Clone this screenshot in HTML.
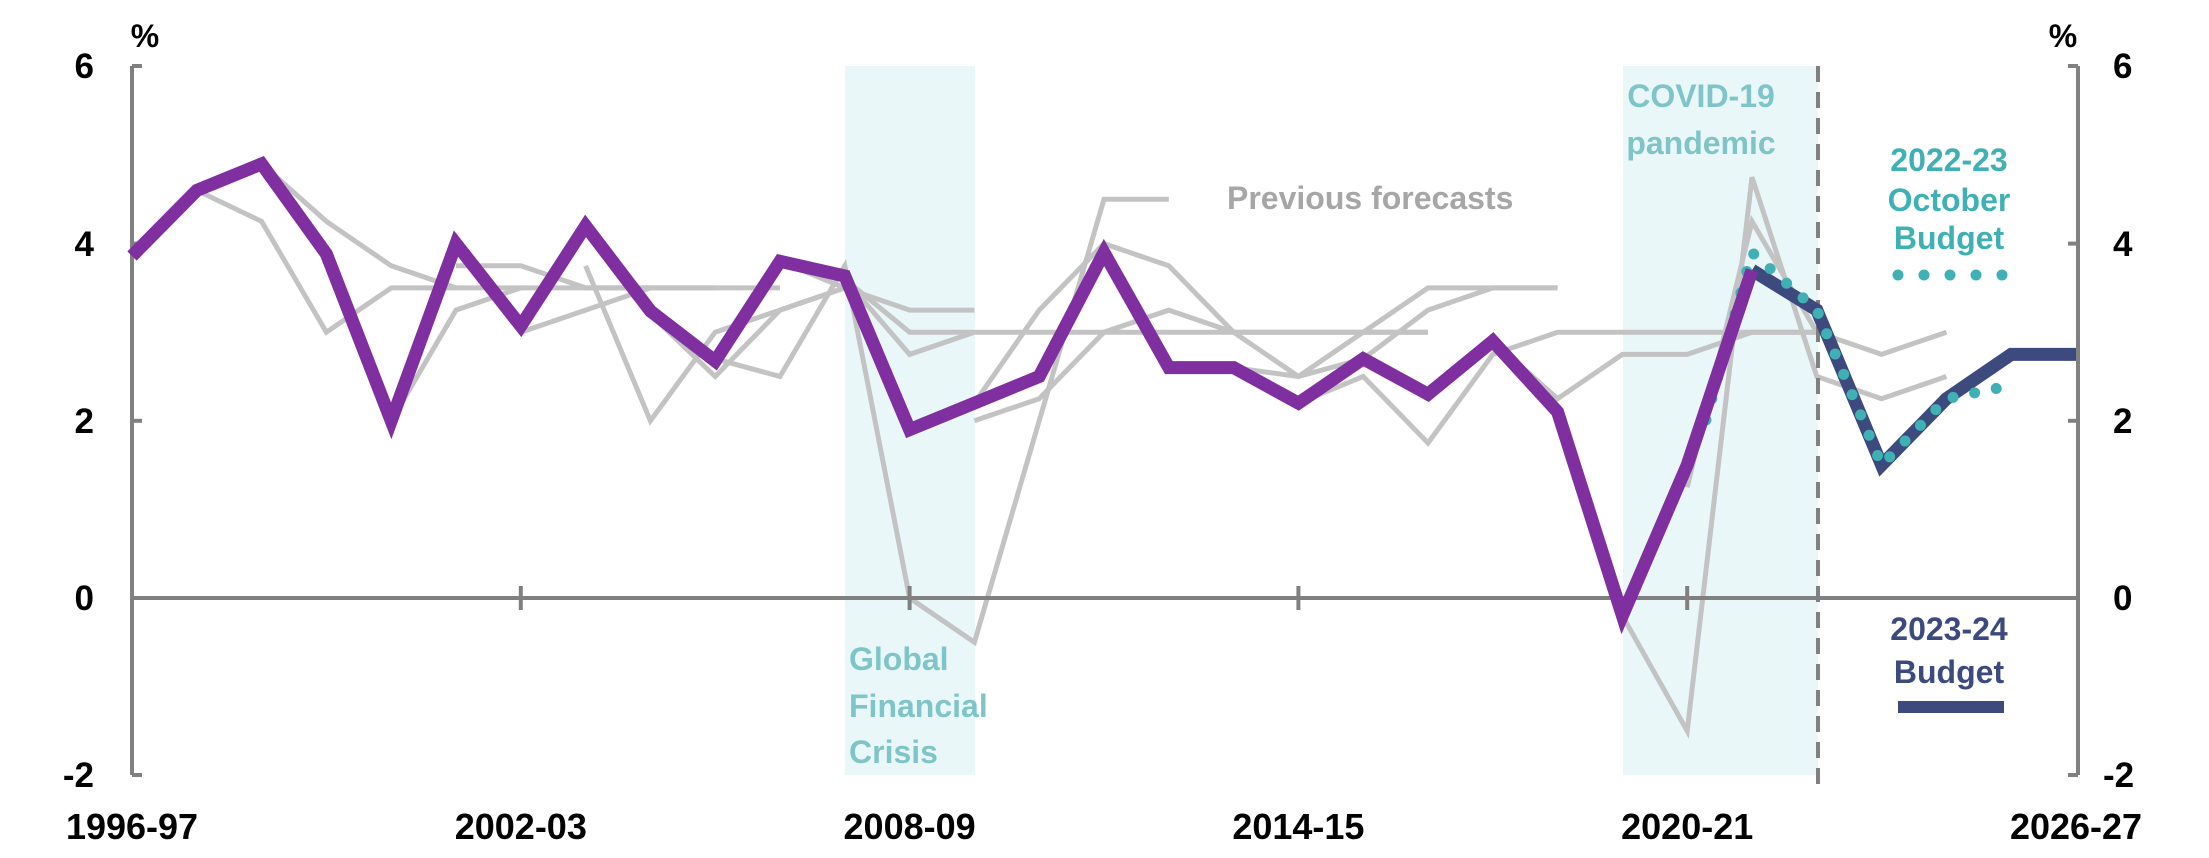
<!DOCTYPE html>
<html><head><meta charset="utf-8"><style>
html,body{margin:0;padding:0;background:#fff;}
svg{display:block;}
text{font-family:"Liberation Sans",sans-serif;font-weight:bold;}
</style></head><body>
<svg width="2209" height="858" viewBox="0 0 2209 858" xmlns="http://www.w3.org/2000/svg">
<rect x="845" y="66" width="130" height="709" fill="#eaf7f8"/>
<rect x="1623" y="66" width="195" height="709" fill="#eaf7f8"/>
<g fill="none" stroke="#c3c3c3" stroke-width="5" stroke-linejoin="miter">
<polyline points="196.8,190.4 261.6,221.4 326.4,332.2 391.2,287.9 456,287.9"/>
<polyline points="261.6,163.9 326.4,221.4 391.2,265.8 456,287.9 520.8,287.9"/>
<polyline points="391.2,420.8 456,310.1 520.8,287.9 585.6,287.9 650.4,287.9"/>
<polyline points="456,265.8 520.8,265.8 585.6,287.9 650.4,287.9 715.2,287.9"/>
<polyline points="520.8,332.2 585.6,310.1 650.4,287.9 715.2,287.9 780,287.9"/>
<polyline points="585.6,265.8 650.4,420.8 715.2,332.2 780,310.1 844.8,287.9"/>
<polyline points="650.4,314.5 715.2,376.5 780,310.1 844.8,287.9"/>
<polyline points="715.2,358.8 780,376.5 844.8,265.8 909.6,598 974.4,642.3 1104,199.3 1168.8,199.3"/>
<polyline points="780,261.3 844.8,287.9 909.6,310.1 974.4,310.1"/>
<polyline points="844.8,279 909.6,332.2 1428,332.2"/>
<polyline points="844.8,279 909.6,354.4 974.4,332.2"/>
<polyline points="909.6,429.7 974.4,403.1 1039.2,310.1 1104,243.6 1168.8,265.8 1233.6,332.2 1428,332.2"/>
<polyline points="974.4,420.8 1039.2,398.7 1104,332.2 1168.8,310.1 1233.6,332.2 1298.4,376.5"/>
<polyline points="1168.8,367.6 1233.6,367.6 1298.4,376.5 1363.2,332.2 1428,287.9 1557.6,287.9"/>
<polyline points="1298.4,376.5 1363.2,358.8 1428,310.1 1492.8,287.9 1557.6,287.9"/>
<polyline points="1298.4,403.1 1363.2,376.5 1428,443 1492.8,354.4 1557.6,332.2 1816.8,332.2"/>
<polyline points="1492.8,341.1 1557.6,398.7 1622.4,354.4 1687.2,354.4 1752,332.2 1816.8,332.2"/>
<polyline points="1622.4,615.7 1687.2,730.9 1752,177.2 1816.8,376.5 1881.6,398.7 1946.4,376.5"/>
<polyline points="1687.2,487.3 1752,221.4 1816.8,332.2 1881.6,354.4 1946.4,332.2"/>
</g>
<g stroke="#808080" stroke-width="4" fill="none">
<line x1="132" y1="66" x2="132" y2="775"/>
<line x1="132" y1="66" x2="142" y2="66"/><line x1="132" y1="243.6" x2="142" y2="243.6"/><line x1="132" y1="420.8" x2="142" y2="420.8"/><line x1="132" y1="775" x2="142" y2="775"/>
<line x1="2078" y1="66" x2="2078" y2="775"/>
<line x1="2068" y1="66" x2="2078" y2="66"/><line x1="2068" y1="243.6" x2="2078" y2="243.6"/><line x1="2068" y1="420.8" x2="2078" y2="420.8"/><line x1="2068" y1="775" x2="2078" y2="775"/>
<line x1="132" y1="598" x2="2078" y2="598"/>
<line x1="520.8" y1="586" x2="520.8" y2="610"/><line x1="909.6" y1="586" x2="909.6" y2="610"/><line x1="1298.4" y1="586" x2="1298.4" y2="610"/><line x1="1687.2" y1="586" x2="1687.2" y2="610"/>
<line x1="1818" y1="66" x2="1818" y2="790" stroke-dasharray="16,10"/>
</g>
<polyline fill="none" stroke="#3d4a7d" stroke-width="13" stroke-linejoin="miter" points="1752,270.2 1816.8,310.1 1881.6,465.1 1946.4,398.7 2011.2,354.4 2076,354.4"/>
<polyline fill="none" stroke="#3fb1b4" stroke-width="11" stroke-linecap="round" stroke-dasharray="0,22" points="1706,420 1752,252.5 1816.8,310.1 1881.6,465.1 1946.4,398.7 2011.2,385.4"/>
<polyline fill="none" stroke="#7f2fa0" stroke-width="13" stroke-linejoin="miter" points="132,256 196.8,190.4 261.6,163.9 326.4,254 391.2,420.8 456,243.6 520.8,326 585.6,225.9 650.4,311 715.2,361 780,261.3 844.8,276 909.6,429.7 974.4,403.1 1039.2,376.5 1104,252.5 1168.8,367.6 1233.6,367.6 1298.4,403.1 1363.2,358.8 1428,394.2 1492.8,341.1 1557.6,411.9 1622.4,615.7 1687.2,465.1 1752,270.2"/>
<g font-size="35" fill="#000">
<text x="94" y="78" text-anchor="end">6</text>
<text x="94" y="256" text-anchor="end">4</text>
<text x="94" y="433" text-anchor="end">2</text>
<text x="94" y="610" text-anchor="end">0</text>
<text x="94" y="787" text-anchor="end">-2</text>
<text x="2113" y="78">6</text>
<text x="2113" y="256">4</text>
<text x="2113" y="433">2</text>
<text x="2113" y="610">0</text>
<text x="2103" y="787">-2</text>
<text x="145" y="47" text-anchor="middle" font-size="32">%</text>
<text x="2063" y="47" text-anchor="middle" font-size="32">%</text>
</g>
<g font-size="36" fill="#000" text-anchor="middle">
<text x="132" y="839">1996-97</text>
<text x="520.8" y="839">2002-03</text>
<text x="909.6" y="839">2008-09</text>
<text x="1298.4" y="839">2014-15</text>
<text x="1687.2" y="839">2020-21</text>
<text x="2076" y="839">2026-27</text>
</g>
<g font-size="32" fill="#7fc4c8">
<text x="849" y="670">Global</text>
<text x="849" y="717">Financial</text>
<text x="849" y="763">Crisis</text>
<text x="1701" y="107" text-anchor="middle">COVID-19</text>
<text x="1701" y="154" text-anchor="middle">pandemic</text>
</g>
<text x="1227" y="209" font-size="32" fill="#a6a6a6">Previous forecasts</text>
<g font-size="32" fill="#3fb1b4" text-anchor="middle">
<text x="1949" y="171">2022-23</text>
<text x="1949" y="211">October</text>
<text x="1949" y="249">Budget</text>
</g>
<line x1="1898" y1="275" x2="2004" y2="275" stroke="#3fb1b4" stroke-width="11" stroke-linecap="round" stroke-dasharray="0,26"/>
<g font-size="32" fill="#3d4a7d" text-anchor="middle">
<text x="1949" y="640">2023-24</text>
<text x="1949" y="683">Budget</text>
</g>
<line x1="1898" y1="707" x2="2004" y2="707" stroke="#3d4a7d" stroke-width="12"/>
</svg>
</body></html>
